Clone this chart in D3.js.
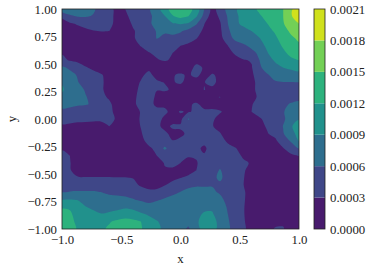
<!DOCTYPE html>
<html lang="en">

<head>
    <meta charset="UTF-8">
    <title>Contour map</title>
    <script src="https://d3js.org/d3.v7.min.js"></script>
    <style>
        body {
            margin: 0;
            background: #ffffff;
        }

        text {
            font-family: "Liberation Serif", serif;
            font-size: 12.8px;
            fill: #222222;
        }

        .axis path,
        .axis line {
            display: none;
        }
    </style>
</head>

<body>
    <svg class="chart" width="371" height="271"></svg>

    <script>
        const xTicks = [-1, -0.5, 0, 0.5, 1];
        const yTicks = [-1, -0.75, -0.5, -0.25, 0, 0.25, 0.5, 0.75, 1];
        const levels = [0, 3, 6, 9, 12, 15, 18, 21];

        // field, in units of 0.0001, top row first
        const zRows = [
            [8, 8, 7.5, 7, 6.3, 5, 3.5, 2.5, 3, 4, 5, 5.7, 7.5, 11, 13, 14.5, 13, 11, 6, 2, 4, 7, 8.8, 10, 11.5, 12.3, 13, 14, 15, 17.5, 20],
            [3.4, 5.5, 6.2, 6.2, 5.8, 5, 4, 2, 2.5, 3.8, 4.8, 5.5, 6.8, 8.8, 11.8, 12.8, 12, 9.3, 5, 1.5, 3.5, 6.3, 8.5, 10, 11, 11.8, 12.5, 13.5, 15, 17.7, 20],
            [2, 2.6, 3.3, 3.8, 4.2, 4.2, 3.8, 2, 2, 3.3, 4.4, 5.6, 6.8, 8.3, 8.7, 9.2, 8.7, 6.3, 3.1, 1, 2.7, 6, 8.6, 9.5, 10.8, 11.4, 12, 13, 14.8, 16.5, 18],
            [1.5, 1.8, 2, 2.5, 2.9, 3.1, 3, 2, 1.7, 2.8, 3.7, 4.7, 6.2, 6.3, 6.8, 6.3, 5.2, 4, 2.5, 1, 2.4, 5.6, 7.2, 8.3, 9, 10, 11.3, 12.3, 14, 15.5, 17],
            [1.2, 1.2, 1.2, 1.3, 1.5, 1.6, 1.6, 1.4, 1.4, 2.8, 3.6, 4.6, 6.1, 5.5, 5.2, 4.7, 4, 3.1, 2, 1, 2.2, 4.5, 7, 7.6, 8, 8.9, 10.5, 11.6, 13, 14.5, 15.5],
            [1, 1, 1, 1, 1, 1, 1, 1, 1, 2.3, 3.1, 3.9, 4.5, 4, 3.6, 3, 2.5, 1.8, 1.2, 1, 1.8, 3, 4.3, 5.5, 6.7, 8.3, 9.4, 11, 12.3, 13.5, 14.5],
            [2.8, 1.5, 1, 1, 1, 1, 1, 1, 1, 1.5, 2.2, 2.9, 3.4, 3.3, 3, 2.2, 1.5, 1.2, 1, 1, 1.2, 2.2, 3.4, 4.4, 5.2, 6.6, 8.9, 10.2, 11.5, 12.7, 13.5],
            [3.6, 2.8, 2.3, 1.8, 1.2, 1, 1, 1, 1, 1, 1.2, 1.9, 2.8, 3.2, 2.7, 1.5, 1, 2, 2.2, 1, 1, 1, 2.2, 2.8, 3.2, 6, 7.8, 9.4, 10.7, 11.5, 12],
            [6.5, 5.6, 4.6, 3.2, 2.5, 1.8, 1.2, 1, 1, 1, 1.6, 2.5, 1.5, 1, 1, 1.5, 1.6, 3.9, 2.7, 1.5, 1, 1, 1, 1.3, 2.8, 5.6, 7, 8, 9, 9.4, 9.8],
            [8, 6.7, 5.8, 4.5, 3.8, 3.2, 2, 1, 1, 1.5, 2.6, 3.6, 2.2, 1, 2.8, 3.4, 2.6, 3.8, 1.8, 3.3, 2.4, 1, 1, 1, 2.8, 3.6, 5.8, 6.8, 7.6, 8, 8.2],
            [8.8, 7.6, 6.1, 5, 4, 3.3, 2.2, 1, 1, 2, 3.2, 4.3, 3.4, 2.9, 2.8, 3.4, 2, 1.5, 2.9, 3.9, 2, 1, 1, 1, 2.6, 3.5, 5.2, 5.8, 5.9, 5.9, 6],
            [9.3, 8, 6.7, 5.8, 4.7, 3.2, 2.4, 1, 1.2, 2.3, 3.5, 4.8, 3.1, 3.4, 2.6, 1.5, 1, 1, 3.1, 2.2, 1, 1, 1, 1, 2.6, 3.5, 4.2, 4.6, 5, 5, 5],
            [8.4, 7.5, 6.8, 6.1, 5.4, 3.5, 2.7, 1.2, 1.5, 2.5, 3.7, 4.2, 2.5, 1.5, 1, 1, 1, 1, 1, 2.6, 3.1, 1, 1, 1, 2.5, 3.3, 4, 4.3, 4.9, 5.2, 5.4],
            [6.8, 6.5, 6.2, 6.1, 5.8, 4.4, 3.4, 2, 1.5, 2.5, 3.8, 3.8, 2.5, 2.5, 2, 1.5, 2.5, 3.5, 2, 1.8, 1.5, 1.2, 1, 1.3, 2.9, 3.6, 4.3, 4.8, 5.6, 6.2, 6.5],
            [5.4, 5.3, 5.2, 5, 4.7, 4, 3.3, 2.6, 1.8, 2.4, 3.1, 3.7, 3.8, 3.5, 2.2, 3.2, 2.7, 3.6, 3.6, 3.7, 3.3, 2, 1.3, 1.8, 3, 3.6, 4.2, 5, 5.9, 6.6, 7.5],
            [3.7, 3.6, 3.5, 3.4, 3.3, 3.3, 3.2, 2.9, 1.8, 2.2, 3.2, 4, 3.9, 2.5, 2, 2.2, 6.3, 3.8, 4, 3.5, 2, 1, 1, 1.5, 2.4, 2.8, 3.5, 4.5, 5.6, 7.2, 8.8],
            [2.7, 2.6, 2.4, 2.4, 2.4, 2.5, 3, 2.3, 1.5, 2, 3.1, 4, 3.7, 2.2, 3.4, 3.4, 3.3, 4, 4.5, 3.2, 2, 1, 1, 1, 1.5, 2.5, 3.2, 4.2, 6.1, 8.7, 10.5],
            [1.5, 1.5, 1.5, 1.5, 1.5, 1.5, 1.5, 1.5, 1.2, 1.5, 2.8, 4.2, 4.3, 3.6, 2.2, 2.5, 3.5, 4.3, 4.8, 4, 3.2, 1.5, 1, 1, 1, 2, 2.9, 3.6, 5.8, 8, 10],
            [1, 1, 1, 1, 1, 1, 1, 1, 1, 1, 2.2, 3.9, 4.5, 4.3, 3.1, 3.5, 4.2, 4.2, 3.9, 4.5, 4, 2.6, 1.6, 1, 1, 1, 1.8, 2.6, 4.3, 6.3, 9.2],
            [2.7, 1.5, 1, 1, 1, 1, 1, 1, 1, 1, 1.5, 2.5, 3.8, 6.5, 4.5, 4.4, 4, 3.7, 2.4, 4.5, 4.4, 3.8, 3.1, 1.5, 1, 1, 1, 1.6, 2.9, 4.5, 6.2],
            [3.9, 3, 1.8, 1, 1, 1, 1, 1, 1, 1, 1, 1, 3, 4, 4.2, 3.8, 3.3, 3.4, 3.3, 4.6, 4.8, 4.6, 4, 2.5, 1, 1, 1, 1, 1.5, 2.5, 3.1],
            [4.8, 3.1, 2, 1, 1, 1, 1, 1, 1, 1, 1, 1, 1.5, 3.2, 3.6, 3, 2, 2.7, 4.6, 5, 5.5, 5, 4.3, 3.5, 2.7, 1, 1, 1, 1, 1, 1],
            [5, 3.2, 1.8, 1, 1, 1, 1, 1, 1, 1, 1, 1, 1.5, 2.7, 2.6, 1.8, 1.6, 3, 4.8, 5.4, 6.1, 5.3, 4.5, 3.4, 1.5, 1, 1, 1, 1, 1, 1],
            [5.2, 3.4, 3.2, 3.2, 3.2, 3.2, 3.2, 3.1, 3.1, 2.9, 1.5, 1.2, 1.2, 2, 2.5, 2.9, 3.7, 4.6, 5.2, 5.6, 6.3, 5.3, 4.7, 3.1, 1.5, 1, 1, 1, 1, 1, 1],
            [5.6, 5.2, 5, 5, 5, 4.8, 4.6, 4.5, 4.2, 3.8, 2.6, 2.2, 2.3, 2.9, 3.6, 5, 5.6, 5.8, 5.8, 5.9, 5.7, 5.2, 4.3, 3, 1.5, 1, 1, 1, 1, 1, 1],
            [5.9, 6.1, 6.2, 6.2, 6.2, 6, 5.7, 5.7, 5.6, 5.2, 4.5, 3.6, 3.6, 4.6, 5.3, 6.1, 6.5, 6.7, 6.6, 6.3, 5.8, 5.2, 4.3, 3.2, 2.2, 1.5, 1.5, 1.5, 1.5, 1.5, 1.5],
            [9, 9.1, 8.9, 7.8, 7.3, 7, 6.6, 6.4, 6.3, 6.1, 5.7, 5.2, 5.7, 6.3, 7, 7.3, 7.6, 7.7, 7.6, 7.4, 6.5, 5.4, 4.5, 3.2, 2, 1.5, 1.5, 1.5, 1.5, 1.5, 1.5],
            [11.7, 11.5, 10, 9.1, 8.5, 8.2, 8, 8.2, 8.6, 8.3, 7.5, 7, 7.5, 7.8, 8, 8.1, 8.2, 8.3, 8.6, 8.5, 7.3, 5.7, 4.6, 3.1, 2, 1.6, 1.5, 1.5, 1.5, 1.5, 1.5],
            [12.9, 12.6, 10.5, 10, 9.6, 9.1, 9.5, 10, 10.6, 10.2, 9.4, 8.7, 8, 8, 8, 8.1, 8.2, 8.6, 9.2, 9.3, 7.7, 6, 4.6, 3.1, 2, 2, 1.8, 1.8, 1.8, 1.5, 1.5],
            [13.5, 13, 11.2, 10.8, 10.6, 11, 11.8, 12.6, 13, 12.7, 12, 10, 9.2, 8.2, 8, 7.5, 7, 8.6, 10, 10.3, 8, 6.3, 4.6, 3.2, 2, 1.6, 2, 2.4, 2.6, 1.5, 1],
            [14, 13.5, 11.6, 11.2, 11.1, 11.6, 12.4, 13.3, 13.9, 13.5, 12.2, 10.8, 9.6, 8.4, 7.8, 7, 5.5, 8, 10, 10.2, 8, 6.5, 4.6, 3.3, 2.2, 1.6, 2.2, 3.2, 3.2, 1.5, 1]
        ];

        const nCols = zRows[0].length;
        const nRows = zRows.length;

        const svg = d3.select(".chart");

        const x = d3.scaleLinear().domain([-1, 1]).range([62, 299]);
        const y = d3.scaleLinear().domain([-1, 1]).range([229, 9]);

        // grid index (d3.contours puts point i at i + 0.5) to data coordinates
        const colToX = d3.scaleLinear().domain([0.5, nCols - 0.5]).range([-1, 1]);
        const rowToY = d3.scaleLinear().domain([0.5, nRows - 0.5]).range([1, -1]);

        const color = d3.scaleSequential(d3.interpolateViridis).domain([0, 21]);

        const contours = d3.contours()
            .size([nCols, nRows])
            .thresholds(levels.slice(0, -1))(d3.merge(zRows));

        // round off the marching squares corners
        const ringLine = d3.line()
            .x(p => x(colToX(p[0])))
            .y(p => y(rowToY(p[1])))
            .curve(d3.curveCatmullRomClosed.alpha(0.5));

        function contourPath(c) {
            return c.coordinates
                .map(polygon => polygon.map(ring => ringLine(ring.slice(0, -1))).join(""))
                .join("");
        }

        svg.append("clipPath")
            .attr("id", "plot-clip")
            .append("rect")
            .attr("x", 62)
            .attr("y", 9)
            .attr("width", 237)
            .attr("height", 220);

        svg.append("g")
            .attr("clip-path", "url(#plot-clip)")
            .selectAll("path")
            .data(contours)
            .enter()
            .append("path")
            .attr("d", contourPath)
            .attr("fill-rule", "evenodd")
            .attr("fill", d => color(d.value + 1.5));

        svg.append("rect")
            .attr("x", 62)
            .attr("y", 9)
            .attr("width", 237)
            .attr("height", 220)
            .attr("fill", "none")
            .attr("stroke", "#222222")
            .attr("stroke-width", 0.8);

        const xAxis = d3.axisBottom(x).tickValues(xTicks).tickSize(0).tickPadding(6).tickFormat(d3.format(".1f"));
        const yAxis = d3.axisLeft(y).tickValues(yTicks).tickSize(0).tickPadding(5).tickFormat(d3.format(".2f"));

        svg.append("g").attr("class", "axis").attr("transform", "translate(0,229)").call(xAxis);
        svg.append("g").attr("class", "axis").attr("transform", "translate(62,0)").call(yAxis);

        svg.append("text")
            .attr("x", 180.5)
            .attr("y", 263)
            .attr("text-anchor", "middle")
            .text("x");

        svg.append("text")
            .attr("transform", "translate(16,119) rotate(-90)")
            .attr("text-anchor", "middle")
            .text("y");

        // colorbar
        const barY = d3.scaleLinear().domain([0, 21]).range([229, 9]);

        svg.append("g")
            .selectAll("rect")
            .data(levels.slice(0, -1))
            .enter()
            .append("rect")
            .attr("x", 314)
            .attr("width", 11)
            .attr("y", d => barY(d + 3))
            .attr("height", d => barY(d) - barY(d + 3))
            .attr("fill", d => color(d + 1.5));

        svg.append("rect")
            .attr("x", 314)
            .attr("y", 9)
            .attr("width", 11)
            .attr("height", 220)
            .attr("fill", "none")
            .attr("stroke", "#222222")
            .attr("stroke-width", 0.8);

        const barAxis = d3.axisRight(barY).tickValues(levels).tickSize(0).tickPadding(5)
            .tickFormat(d => d3.format(".4f")(d / 10000));

        svg.append("g").attr("class", "axis").attr("transform", "translate(325,0)").call(barAxis);

        svg.selectAll(".axis").attr("font-family", null).attr("font-size", null);
    </script>
</body>

</html>
